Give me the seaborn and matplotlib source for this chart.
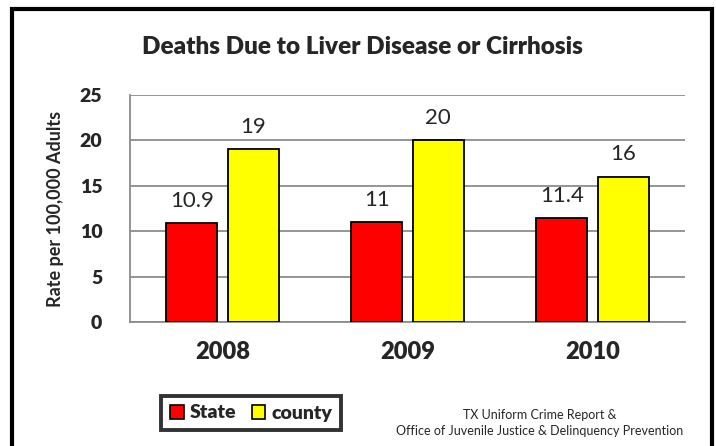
import pandas as pd
import matplotlib.pyplot as plt
import seaborn as sns
from matplotlib.patches import Rectangle, Patch

years = ["2008", "2009", "2010"]
state_rate = [10.9, 11, 11.4]
county_rate = [19, 20, 16]
series_names = ["State", "county"]
series_colors = ["#FF0000", "#FFFF00"]

df = pd.DataFrame({
    "year": years * 2,
    "rate": state_rate + county_rate,
    "series": [series_names[0]] * len(years) + [series_names[1]] * len(years),
})

sns.set_style("white")
plt.rcParams['font.family'] = ['Lato', 'DejaVu Sans']

fig = plt.figure(figsize=(7.16, 4.46), dpi=100)
ax = fig.add_axes([130/716, 1 - 322/446, 555/716, 227/446])

sns.barplot(data=df, x="year", y="rate", hue="series", hue_order=series_names,
            palette=series_colors, saturation=1, width=0.66, gap=0.165, edgecolor="black",
            linewidth=1.3, ax=ax, legend=False, zorder=3)

# value labels above each bar
for container in ax.containers:
    labels = [f"{v:g}" for v in container.datavalues]
    for bar, lab in zip(container, labels):
        ax.annotate(lab, (bar.get_x() + bar.get_width() / 2, bar.get_height()),
                    xytext=(0, 16), textcoords="offset points",
                    ha="center", va="center", fontsize=16)

ax.set_ylim(0, 25)
ax.set_yticks([0, 5, 10, 15, 20, 25])
ax.yaxis.grid(True, color="#8c8c8c", linewidth=1.3, zorder=0)
ax.set_axisbelow(True)
for side in ["top", "right"]:
    ax.spines[side].set_visible(False)
for side in ["left", "bottom"]:
    ax.spines[side].set_color("#8c8c8c")
    ax.spines[side].set_linewidth(1.3)
ax.tick_params(axis="y", length=6, width=1.3, color="#8c8c8c", labelsize=14, pad=14)
ax.tick_params(axis="x", length=0, labelsize=17, pad=14)
for t in ax.get_xticklabels() + ax.get_yticklabels():
    t.set_fontweight("heavy")
ax.set_xlabel("")
ax.set_ylabel("Rate per 100,000 Adults", fontsize=13, fontweight="bold")
ax.yaxis.set_label_coords((64 - 130) / 555, 0.5)

fig.text(362/716, 1 - 47/446, "Deaths Due to Liver Disease or Cirrhosis",
         ha="center", va="center", fontsize=17.5, fontweight="heavy")

handles = [Patch(facecolor=c, edgecolor="black", linewidth=1.2) for c in series_colors]
leg = fig.legend(handles, series_names, loc="center", bbox_to_anchor=(251/716, 1 - 413/446),
                 ncol=2, frameon=True, fancybox=False, prop={"weight": "heavy", "size": 14},
                 handlelength=0.7, handleheight=0.7, handletextpad=0.3, columnspacing=0.8,
                 borderpad=0.45)
leg.get_frame().set_edgecolor("black")
leg.get_frame().set_linewidth(2.8)

fig.text(540/716, 1 - 415/446, "TX Uniform Crime Report &", ha="center", va="center", fontsize=9)
fig.text(540/716, 1 - 431/446, "Office of Juvenile Justice & Delinquency Prevention",
         ha="center", va="center", fontsize=9)

# outer frame, open at the bottom edge like the original
fig.patches.append(Rectangle((12/716, -0.05), 700/716, 1.05 - 9/446, transform=fig.transFigure,
                             fill=False, edgecolor="black", linewidth=3, clip_on=False))

fig.savefig("out.png", dpi=100)
